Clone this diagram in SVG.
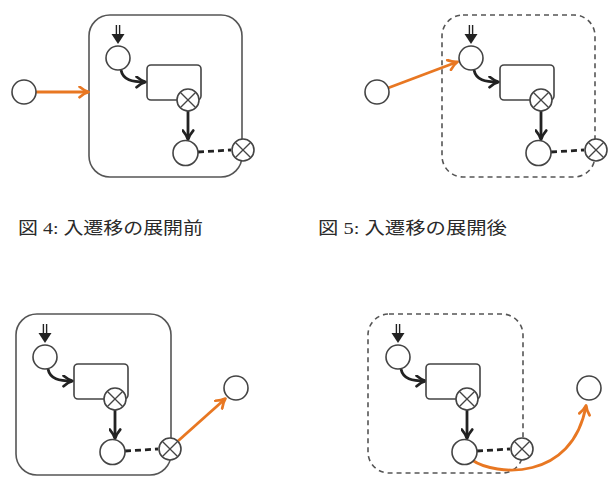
<svg xmlns="http://www.w3.org/2000/svg" width="615" height="482" viewBox="0 0 615 482">
<style>
.bg{fill:#fff}
.box{fill:none;stroke:#555;stroke-width:1.6}
.dbox{fill:none;stroke:#555;stroke-width:1.6;stroke-dasharray:5 4}
.st{fill:#fff;stroke:#444;stroke-width:1.6}
.xl{stroke:#444;stroke-width:1.3}
.blk{fill:none;stroke:#222;stroke-width:2.8;marker-end:url(#ab)}
.dsh{fill:none;stroke:#222;stroke-width:2.8;stroke-dasharray:6 4}
.org{fill:none;stroke:#E87722;stroke-width:2.8;marker-end:url(#ao)}
.init{stroke:#222;stroke-width:1.4}
.cap{font-family:"Liberation Serif","Noto Sans CJK JP",serif;font-size:17px;fill:#2a2a2a}
</style>
<defs>
<marker id="ab" viewBox="0 0 10 10" refX="8" refY="5" markerWidth="13" markerHeight="13" markerUnits="userSpaceOnUse" orient="auto">
<path d="M1.5,1 Q5,4 8.5,5 Q5,6 1.5,9" fill="none" stroke="#222" stroke-width="2.1" stroke-linecap="round" stroke-linejoin="round"/>
</marker>
<marker id="ao" viewBox="0 0 10 10" refX="8" refY="5" markerWidth="13" markerHeight="13" markerUnits="userSpaceOnUse" orient="auto">
<path d="M1.5,1 Q5,4 8.5,5 Q5,6 1.5,9" fill="none" stroke="#E87722" stroke-width="2.1" stroke-linecap="round" stroke-linejoin="round"/>
</marker>
<g id="xc">
<circle cx="0" cy="0" r="11" class="st"/>
<line x1="-7.8" y1="-7.8" x2="7.8" y2="7.8" class="xl"/>
<line x1="-7.8" y1="7.8" x2="7.8" y2="-7.8" class="xl"/>
</g>
<g id="initmark">
<line x1="-1.6" y1="0" x2="-1.6" y2="11" class="init"/>
<line x1="1.6" y1="0" x2="1.6" y2="11" class="init"/>
<path d="M-6.5,9 L6.5,9 L0,19 Z" fill="#222"/>
</g>
</defs>
<rect class="bg" x="0" y="0" width="615" height="482"/>

<!-- Figure 4 -->
<g id="fig4">
<g id="f4-container"><rect class="box" x="89" y="15" width="153" height="162" rx="21"/></g>
<g id="f4-connectors">
<line class="org" x1="36" y1="92" x2="88" y2="92"/>
<path class="blk" d="M121,70 C123,80 132,82 145,82"/>
<line class="blk" x1="188" y1="111" x2="188" y2="139"/>
<line class="dsh" x1="198" y1="152" x2="231" y2="150"/>
</g>
<g id="f4-src"><circle class="st" cx="24" cy="92" r="12"/></g>
<g id="f4-init"><use href="#initmark" x="118" y="25"/></g>
<g id="f4-start"><circle class="st" cx="118" cy="58" r="12"/></g>
<g id="f4-rect"><rect class="st" x="147" y="65" width="54" height="35" rx="4"/></g>
<g id="f4-xc1"><use href="#xc" x="188" y="100"/></g>
<g id="f4-end"><circle class="st" cx="185.5" cy="153" r="12.5"/></g>
<g id="f4-xc2"><use href="#xc" x="243" y="150"/></g>
</g>

<!-- Figure 5 -->
<g id="fig5">
<g id="f5-container"><rect class="dbox" x="442" y="15" width="153" height="162" rx="21"/></g>
<g id="f5-connectors">
<line class="org" x1="388" y1="88" x2="457" y2="62"/>
<path class="blk" d="M474,70 C476,80 485,82 498,82"/>
<line class="blk" x1="541" y1="111" x2="541" y2="139"/>
<line class="dsh" x1="551" y1="152" x2="584" y2="150"/>
</g>
<g id="f5-src"><circle class="st" cx="377" cy="92" r="12"/></g>
<g id="f5-init"><use href="#initmark" x="471" y="25"/></g>
<g id="f5-start"><circle class="st" cx="471" cy="58" r="12"/></g>
<g id="f5-rect"><rect class="st" x="500" y="65" width="54" height="35" rx="4"/></g>
<g id="f5-xc1"><use href="#xc" x="541" y="100"/></g>
<g id="f5-end"><circle class="st" cx="538.5" cy="153" r="12.5"/></g>
<g id="f5-xc2"><use href="#xc" x="596" y="150"/></g>
</g>

<!-- Captions -->
<g id="captions">
<text class="cap" x="18" y="234" textLength="185" lengthAdjust="spacingAndGlyphs">図 4: 入遷移の展開前</text>
<text class="cap" x="318" y="234" textLength="189" lengthAdjust="spacingAndGlyphs">図 5: 入遷移の展開後</text>
</g>

<!-- Figure 6 (bottom left) -->
<g id="fig6">
<g id="f6-container"><rect class="box" x="16" y="314" width="155" height="161" rx="21"/></g>
<g id="f6-connectors">
<path class="blk" d="M48,369 C50,379 59,381 72,381"/>
<line class="blk" x1="115" y1="410" x2="115" y2="438"/>
<line class="dsh" x1="125" y1="451" x2="158" y2="449"/>
<line class="org" x1="178" y1="441" x2="225" y2="399"/>
</g>
<g id="f6-init"><use href="#initmark" x="45" y="324"/></g>
<g id="f6-start"><circle class="st" cx="45" cy="357" r="12"/></g>
<g id="f6-rect"><rect class="st" x="74" y="364" width="54" height="35" rx="4"/></g>
<g id="f6-xc1"><use href="#xc" x="115" y="399"/></g>
<g id="f6-end"><circle class="st" cx="112.5" cy="452" r="12.5"/></g>
<g id="f6-xc2"><use href="#xc" x="170" y="449"/></g>
<g id="f6-dst"><circle class="st" cx="236" cy="388" r="12"/></g>
</g>

<!-- Figure 7 (bottom right) -->
<g id="fig7">
<g id="f7-container"><rect class="dbox" x="368" y="314" width="155" height="159" rx="21"/></g>
<g id="f7-connectors">
<path class="blk" d="M401,369 C403,379 412,381 425,381"/>
<line class="blk" x1="467" y1="410" x2="467" y2="438"/>
<line class="dsh" x1="477" y1="451" x2="510" y2="449"/>
<path class="org" d="M472,460 C495,476 572,482 586,406"/>
</g>
<g id="f7-init"><use href="#initmark" x="398" y="324"/></g>
<g id="f7-start"><circle class="st" cx="398" cy="357" r="12"/></g>
<g id="f7-rect"><rect class="st" x="426" y="364" width="54" height="35" rx="4"/></g>
<g id="f7-xc1"><use href="#xc" x="467" y="399"/></g>
<g id="f7-end"><circle class="st" cx="464.5" cy="452" r="12.5"/></g>
<g id="f7-xc2"><use href="#xc" x="522" y="449"/></g>
<g id="f7-dst"><circle class="st" cx="589" cy="388" r="12"/></g>
</g>
</svg>
